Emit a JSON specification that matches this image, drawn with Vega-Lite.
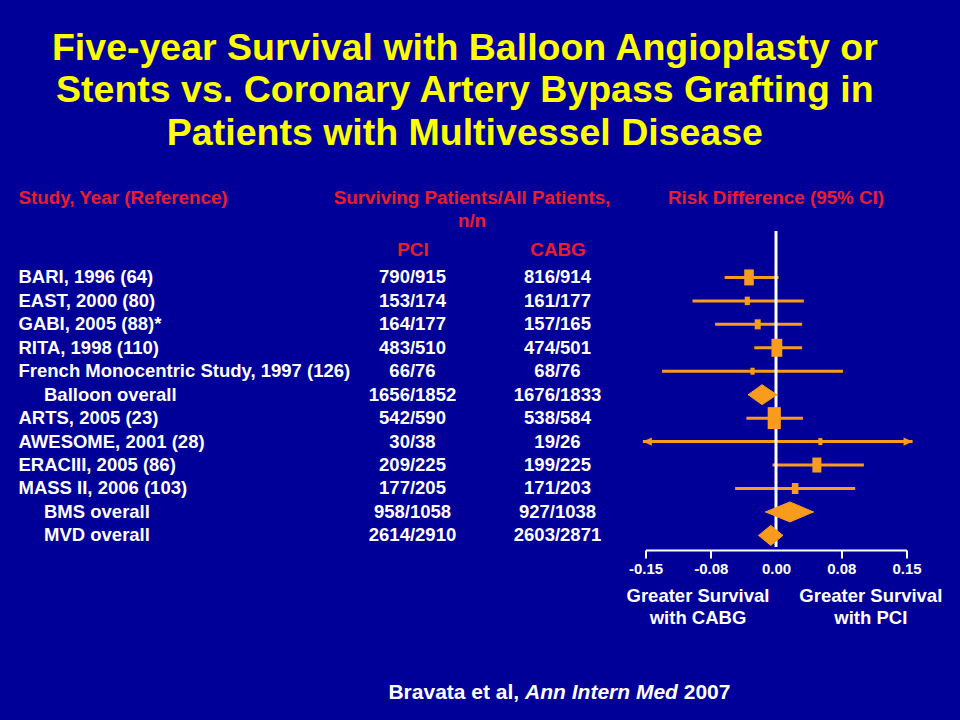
{
  "$schema": "https://vega.github.io/schema/vega-lite/v6.json",
  "background": "#000099",
  "padding": {"left": 18, "top": 29, "right": 60, "bottom": 60},
  "config": {"font": "Liberation Sans", "view": {"stroke": null}, "axis": {"grid": false}},
  "title": {
    "text": ["Five-year Survival with Balloon Angioplasty or", "Stents vs. Coronary Artery Bypass Grafting in", "Patients with Multivessel Disease"],
    "color": "#FFFF00", "fontSize": 37.5, "fontWeight": "bold", "lineHeight": 42.5, "anchor": "middle", "offset": 36, "dx": -15
  },
  "datasets": {
    "rows": [
      {"label": "BARI, 1996 (64)", "PCI": "790/915", "CABG": "816/914", "kind": "study", "lo": -0.059, "rd": -0.031, "hi": 0.003, "weight": 15.2, "truncated": false},
      {"label": "EAST, 2000 (80)", "PCI": "153/174", "CABG": "161/177", "kind": "study", "lo": -0.096, "rd": -0.033, "hi": 0.032, "weight": 4.3, "truncated": false},
      {"label": "GABI, 2005 (88)*", "PCI": "164/177", "CABG": "157/165", "kind": "study", "lo": -0.070, "rd": -0.021, "hi": 0.030, "weight": 6.0, "truncated": false},
      {"label": "RITA, 1998 (110)", "PCI": "483/510", "CABG": "474/501", "kind": "study", "lo": -0.025, "rd": 0.001, "hi": 0.030, "weight": 19.3, "truncated": false},
      {"label": "French Monocentric Study, 1997 (126)", "PCI": "66/76", "CABG": "68/76", "kind": "study", "lo": -0.131, "rd": -0.027, "hi": 0.077, "weight": 2.9, "truncated": false},
      {"label": "Balloon overall", "PCI": "1656/1852", "CABG": "1676/1833", "kind": "pooled", "lo": -0.032, "rd": -0.016, "hi": 0.001, "weight": null, "truncated": false},
      {"label": "ARTS, 2005 (23)", "PCI": "542/590", "CABG": "538/584", "kind": "study", "lo": -0.034, "rd": -0.002, "hi": 0.031, "weight": 28.8, "truncated": false},
      {"label": "AWESOME, 2001 (28)", "PCI": "30/38", "CABG": "19/26", "kind": "study", "lo": -0.153, "rd": 0.051, "hi": 0.157, "weight": 2.9, "truncated": true},
      {"label": "ERACIII, 2005 (86)", "PCI": "209/225", "CABG": "199/225", "kind": "study", "lo": -0.004, "rd": 0.047, "hi": 0.101, "weight": 13.4, "truncated": false},
      {"label": "MASS II, 2006 (103)", "PCI": "177/205", "CABG": "171/203", "kind": "study", "lo": -0.047, "rd": 0.022, "hi": 0.091, "weight": 7.2, "truncated": false},
      {"label": "BMS overall", "PCI": "958/1058", "CABG": "927/1038", "kind": "pooled", "lo": -0.012, "rd": 0.016, "hi": 0.043, "weight": null, "truncated": false},
      {"label": "MVD overall", "PCI": "2614/2910", "CABG": "2603/2871", "kind": "pooled", "lo": -0.020, "rd": -0.006, "hi": 0.008, "weight": null, "truncated": false}
    ],
    "diamond_outline": [
      {"pt": "lo", "up": 0, "dn": 0},
      {"pt": "rd", "up": -1, "dn": 1},
      {"pt": "hi", "up": 0, "dn": 0}
    ]
  },
  "bounds": "flush",
  "columns": 2,
  "spacing": {"row": 134.9, "column": 15.5},
  "concat": [
    {
      "data": {"name": "rows"},
      "width": 290,
      "height": 316.1,
      "transform": [{"fold": ["PCI", "CABG"], "as": ["arm", "count"]}],
      "mark": {"type": "text", "color": "#FFFFFF", "fontSize": 18.5, "fontWeight": "bold"},
      "encoding": {
        "y": {
          "field": "label", "type": "nominal", "sort": null,
          "scale": {"type": "band", "domain": ["BARI, 1996 (64)", "EAST, 2000 (80)", "GABI, 2005 (88)*", "RITA, 1998 (110)", "French Monocentric Study, 1997 (126)", "Balloon overall", "ARTS, 2005 (23)", "AWESOME, 2001 (28)", "ERACIII, 2005 (86)", "MASS II, 2006 (103)", "BMS overall", "MVD overall"], "paddingInner": 0, "paddingOuter": 0.74, "align": 1},
          "axis": {
            "orient": "left", "domain": false, "ticks": false, "labelAlign": "left", "labelBaseline": "middle",
            "labelPadding": {"condition": {"test": "indexof(datum.value, 'overall') >= 0", "value": 296.5}, "value": 322},
            "labelColor": "#FFFFFF", "labelFontSize": 18.5, "labelFontWeight": "bold", "labelLimit": 400, "labelOverlap": false, "labelFlush": false,
            "title": "Study, Year (Reference)", "titleColor": "#EC1C2C", "titleFontSize": 18.8, "titleFontWeight": "bold",
            "titleAngle": 0, "titleAlign": "left", "titleBaseline": "alphabetic", "titleX": -322, "titleY": -27.6
          }
        },
        "x": {
          "field": "arm", "type": "nominal", "sort": ["PCI", "CABG"],
          "scale": {"type": "point", "padding": 0.5},
          "axis": {
            "orient": "top", "domain": false, "ticks": false, "labelAngle": 0, "labelBaseline": "middle", "labelPadding": 0, "offset": -18,
            "labelColor": "#EC1C2C", "labelFontSize": 18.8, "labelFontWeight": "bold",
            "title": ["Surviving Patients/All Patients,", "n/n"], "titleColor": "#EC1C2C", "titleFontSize": 18.8, "titleFontWeight": "bold",
            "titleLineHeight": 23, "titleAlign": "center", "titleBaseline": "alphabetic", "titleX": 131.5, "titleY": -45.6
          }
        },
        "text": {"field": "count", "type": "nominal"}
      }
    },
    {
      "data": {"name": "rows"},
      "width": 261,
      "height": 316.1,
      "title": {"text": "Risk Difference (95% CI)", "color": "#EC1C2C", "fontSize": 18.8, "fontWeight": "bold", "anchor": "middle", "baseline": "alphabetic", "offset": 7},
      "resolve": {"scale": {"size": "independent"}},
      "layer": [
        {
          "transform": [{"filter": "datum.kind != 'pooled'"}],
          "mark": {"type": "rule", "color": "#F99B1C", "strokeWidth": 3},
          "encoding": {
            "x": {
              "field": "lo", "type": "quantitative",
              "scale": {"domain": [-0.15, 0.15], "nice": false, "zero": false},
              "axis": {
                "values": [-0.15, -0.075, 0, 0.075, 0.15],
                "labelExpr": "datum.value == 0 ? '0.00' : (datum.value < 0 ? '-' : '') + format(abs(datum.value) + 0.0001, '.2f')",
                "domainColor": "#FFFFFF", "domainWidth": 2, "tickColor": "#FFFFFF", "tickWidth": 2, "tickSize": 8,
                "tickOpacity": {"condition": {"test": "datum.value == 0", "value": 0}, "value": 1},
                "offset": 3, "labelColor": "#FFFFFF", "labelFontSize": 15, "labelFontWeight": "bold", "labelBaseline": "alphabetic", "labelPadding": 15.3,
                "labelFlush": false, "labelOverlap": false,
                "title": ["Greater Survival", "with CABG"], "titleColor": "#FFFFFF", "titleFontSize": 18.5, "titleFontWeight": "bold",
                "titleLineHeight": 21.7, "titleAlign": "center", "titleBaseline": "alphabetic", "titleX": 52, "titleY": 51.7
              }
            },
            "x2": {"field": "hi"},
            "y": {
              "field": "label", "type": "nominal", "sort": null,
              "scale": {"type": "band", "domain": ["BARI, 1996 (64)", "EAST, 2000 (80)", "GABI, 2005 (88)*", "RITA, 1998 (110)", "French Monocentric Study, 1997 (126)", "Balloon overall", "ARTS, 2005 (23)", "AWESOME, 2001 (28)", "ERACIII, 2005 (86)", "MASS II, 2006 (103)", "BMS overall", "MVD overall"], "paddingInner": 0, "paddingOuter": 0.74, "align": 1},
              "axis": {
                "orient": "right", "labels": false, "ticks": false, "domain": false,
                "title": ["Greater Survival", "with PCI"], "titleColor": "#FFFFFF", "titleFontSize": 18.5, "titleFontWeight": "bold",
                "titleAngle": 0, "titleAlign": "center", "titleBaseline": "alphabetic", "titleLineHeight": 21.7, "titleX": -36.2, "titleY": 370.7
              }
            }
          }
        },
        {
          "data": {"values": [{"zero": 0}]},
          "mark": {"type": "rule", "color": "#FFFFFF", "strokeWidth": 3},
          "encoding": {"x": {"field": "zero", "type": "quantitative"}}
        },
        {
          "transform": [{"filter": "datum.kind == 'study'"}],
          "mark": {"type": "point", "shape": "M-0.6,-1H0.6V1H-0.6Z", "filled": true, "opacity": 1, "color": "#F99B1C", "strokeWidth": 0},
          "encoding": {
            "x": {"field": "rd", "type": "quantitative"},
            "y": {"field": "label", "type": "nominal", "sort": null},
            "size": {"field": "weight", "type": "quantitative", "scale": {"domain": [0, 28.8], "range": [0, 484]}, "legend": null}
          }
        },
        {
          "transform": [{"filter": "datum.truncated"}],
          "mark": {"type": "point", "shape": "M0,0L2,-0.9L2,0.9Z", "filled": true, "opacity": 1, "color": "#F99B1C", "strokeWidth": 0, "size": 81},
          "encoding": {
            "x": {"field": "lo", "type": "quantitative"},
            "y": {"field": "label", "type": "nominal", "sort": null}
          }
        },
        {
          "transform": [{"filter": "datum.truncated"}],
          "mark": {"type": "point", "shape": "M0,0L-2,-0.9L-2,0.9Z", "filled": true, "opacity": 1, "color": "#F99B1C", "strokeWidth": 0, "size": 81},
          "encoding": {
            "x": {"field": "hi", "type": "quantitative"},
            "y": {"field": "label", "type": "nominal", "sort": null}
          }
        },
        {
          "transform": [
            {"filter": "datum.kind == 'pooled'"},
            {"fold": ["lo", "rd", "hi"], "as": ["pt", "xval"]},
            {"lookup": "pt", "from": {"data": {"name": "diamond_outline"}, "key": "pt", "fields": ["up", "dn"]}}
          ],
          "mark": {"type": "line", "interpolate": "linear-closed", "filled": true, "fill": "#F99B1C", "stroke": "#F99B1C", "strokeWidth": 1},
          "encoding": {
            "x": {"field": "xval", "type": "quantitative"},
            "y": {"field": "label", "type": "nominal", "sort": null},
            "yOffset": {"field": "up", "type": "quantitative", "scale": {"domain": [-1, 1], "range": [1.725, 21.725]}},
            "detail": {"field": "label", "type": "nominal"},
            "order": {"field": "xval", "type": "quantitative"}
          }
        },
        {
          "transform": [
            {"filter": "datum.kind == 'pooled'"},
            {"fold": ["lo", "rd", "hi"], "as": ["pt", "xval"]},
            {"lookup": "pt", "from": {"data": {"name": "diamond_outline"}, "key": "pt", "fields": ["up", "dn"]}}
          ],
          "mark": {"type": "line", "interpolate": "linear-closed", "filled": true, "fill": "#F99B1C", "stroke": "#F99B1C", "strokeWidth": 1},
          "encoding": {
            "x": {"field": "xval", "type": "quantitative"},
            "y": {"field": "label", "type": "nominal", "sort": null},
            "yOffset": {"field": "dn", "type": "quantitative"},
            "detail": {"field": "label", "type": "nominal"},
            "order": {"field": "xval", "type": "quantitative"}
          }
        }
      ]
    },
    {
      "width": 290,
      "height": 20,
      "data": {"values": [{"k": 1}]},
      "layer": [
        {"mark": {"type": "text", "text": "Bravata et al,", "align": "right", "baseline": "middle", "dx": 34.2, "color": "#FFFFFF", "fontSize": 21, "fontWeight": "bold"}, "encoding": {}},
        {"mark": {"type": "text", "text": "Ann Intern Med", "align": "left", "baseline": "middle", "dx": 40.1, "color": "#FFFFFF", "fontSize": 21, "fontWeight": "bold", "fontStyle": "italic"}, "encoding": {}},
        {"mark": {"type": "text", "text": "2007", "align": "left", "baseline": "middle", "dx": 198.7, "color": "#FFFFFF", "fontSize": 21, "fontWeight": "bold"}, "encoding": {}}
      ]
    }
  ]
}
